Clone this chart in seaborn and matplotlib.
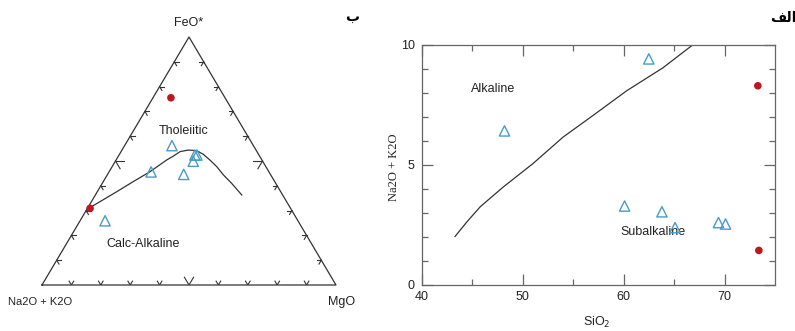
import numpy as np
import pandas as pd
import matplotlib.pyplot as plt
import seaborn as sns

# --- ternary AFM data (percent: FeO*, MgO, Na2O+K2O) ---
afm_tri_feo = [56.2, 52.4, 52.4, 49.9, 45.6, 44.6, 25.9]
afm_tri_mgo = [16.1, 25.8, 26.5, 26.5, 14.3, 25.9, 8.5]
afm_tri_alk = [27.7, 21.8, 21.1, 23.6, 40.1, 29.5, 65.6]
afm_dot_feo = [75.5, 30.9]
afm_dot_mgo = [6.1, 0.9]
afm_dot_alk = [18.4, 68.2]

afm_line_feo = [31.2, 33.6, 37.6, 41.7, 45.7, 50.4, 52.0, 53.8, 54.4, 54.3,
                53.8, 52.7, 50.4, 47.7, 44.4, 41.0, 36.3]
afm_line_mgo = [0.7, 2.9, 6.6, 10.2, 13.9, 17.2, 18.7, 20.1, 22.5, 24.3,
                26.3, 28.5, 31.9, 35.6, 39.5, 44.0, 49.8]
afm_line_alk = [68.1, 63.5, 55.8, 48.1, 40.4, 32.4, 29.3, 26.1, 23.1, 21.4,
                19.9, 18.8, 17.7, 16.7, 16.1, 15.0, 13.9]

# --- SiO2 vs alkalis data ---
tas_tri_sio2 = [62.5, 48.2, 60.1, 63.8, 65.1, 69.4, 70.1]
tas_tri_alk = [9.4, 6.4, 3.27, 3.03, 2.37, 2.58, 2.52]
tas_dot_sio2 = [73.3, 73.4]
tas_dot_alk = [8.28, 1.42]

tas_line_sio2 = [43.3, 44.5, 45.8, 48.1, 51.0, 54.0, 56.7, 60.3, 63.9, 66.9]
tas_line_alk = [2.0, 2.62, 3.24, 4.07, 5.03, 6.14, 6.96, 8.07, 9.03, 10.0]

plt.rcParams['font.family'] = ['Liberation Sans', 'DejaVu Sans']

TRI_COLOR = '#4a9bc7'
DOT_COLOR = '#c0161d'
LINE_COLOR = '#333333'


def tern_xy(feo, mgo, alk):
    feo = np.asarray(feo, float)
    mgo = np.asarray(mgo, float)
    alk = np.asarray(alk, float)
    tot = feo + mgo + alk
    f = feo / tot
    m = mgo / tot
    return m + f / 2, f


fig = plt.figure(figsize=(7.95, 3.31), dpi=100)
W, H = 795, 331

# ---------------- left: AFM ternary ----------------
axt = fig.add_axes([42 / W, (H - 285) / H, 294 / W, 248 / H])
axt.set_xlim(0, 1)
axt.set_ylim(0, 1)
axt.axis('off')

axt.plot([0, 1, 0.5, 0], [0, 0, 1, 0], color=LINE_COLOR, lw=0.9, clip_on=False)

# edge ticks (10 % steps, bigger at 50 %)
edge_len = 288.3
for i in range(1, 10):
    t = i / 10
    L = 9 if i == 5 else 4.5
    b = L / edge_len
    h = L / 294
    segs = [
        ((t, 0), (0.5 * b, b)), ((t, 0), (-0.5 * b, b)),
        ((0.5 * t, t), (h, 0)), ((0.5 * t, t), (0.5 * b, -b)),
        ((1 - 0.5 * t, t), (-h, 0)), ((1 - 0.5 * t, t), (-0.5 * b, -b)),
    ]
    for (x0, y0), (dx, dy) in segs:
        axt.plot([x0, x0 + dx], [y0, y0 + dy], color=LINE_COLOR, lw=0.8)

lx, ly = tern_xy(afm_line_feo, afm_line_mgo, afm_line_alk)
sns.lineplot(x=lx, y=ly, ax=axt, color=LINE_COLOR, lw=0.9, sort=False, estimator=None)

tx, ty = tern_xy(afm_tri_feo, afm_tri_mgo, afm_tri_alk)
sns.scatterplot(x=tx, y=ty, ax=axt, marker='^', s=55, facecolor='none',
                edgecolor=TRI_COLOR, linewidth=1.0, zorder=5, clip_on=False)
dx_, dy_ = tern_xy(afm_dot_feo, afm_dot_mgo, afm_dot_alk)
sns.scatterplot(x=dx_, y=dy_, ax=axt, marker='o', s=30, color=DOT_COLOR,
                edgecolor='none', zorder=6, clip_on=False)

axt.text(0.5, 1.056, 'FeO*', ha='center', va='center', fontsize=9, color='#222')
axt.text(-0.007, -0.067, 'Na2O + K2O', ha='center', va='center', fontsize=8, color='#222')
axt.text(1.019, -0.067, 'MgO', ha='center', va='center', fontsize=9, color='#222')
axt.text(0.481, 0.621, 'Tholeiitic', ha='center', va='center', fontsize=9, color='#222')
axt.text(0.345, 0.165, 'Calc-Alkaline', ha='center', va='center', fontsize=9, color='#222')

# ---------------- right: SiO2 vs alkalis ----------------
axr = fig.add_axes([421.7 / W, (H - 284.5) / H, 353.3 / W, 240 / H])
sns.lineplot(x=tas_line_sio2, y=tas_line_alk, ax=axr, color=LINE_COLOR, lw=0.9,
             sort=False, estimator=None)
sns.scatterplot(x=tas_tri_sio2, y=tas_tri_alk, ax=axr, marker='^', s=55,
                facecolor='none', edgecolor=TRI_COLOR, linewidth=1.0, zorder=5)
sns.scatterplot(x=tas_dot_sio2, y=tas_dot_alk, ax=axr, marker='o', s=30,
                color=DOT_COLOR, edgecolor='none', zorder=6)

axr.set_xlim(40, 75)
axr.set_ylim(0, 10)
axr.set_xticks([40, 50, 60, 70])
axr.set_xticks([45, 55, 65], minor=True)
axr.set_yticks([0, 5, 10])
axr.set_yticks([1, 2, 3, 4, 6, 7, 8, 9], minor=True)
axr.tick_params(which='both', direction='in', top=True, right=True,
                color='#666666', width=0.9, labelsize=9, labelcolor='#222')
axr.tick_params(which='major', length=8, pad=5)
axr.tick_params(which='minor', length=4)
for sp in axr.spines.values():
    sp.set_color('#666666')
    sp.set_linewidth(0.9)

axr.set_xlabel('SiO$_2$', fontsize=9, color='#222')
axr.xaxis.set_label_coords(0.495, -0.125)
axr.set_ylabel('Na2O + K2O', fontsize=9, family='Liberation Serif', color='#222')
axr.yaxis.set_label_coords(-0.061, 0.49)

axr.text(47.06, 8.15, 'Alkaline', ha='center', va='center', fontsize=9, color='#222')
axr.text(62.9, 2.18, 'Subalkaline', ha='center', va='center', fontsize=9, color='#222')

# panel letters (Arabic)
fig.text(351.7 / W, 1 - 16.7 / H, 'ب', ha='center', va='center', fontsize=10,
         fontweight='bold', family='DejaVu Sans')
fig.text(783 / W, 1 - 18 / H, '\ufed2\ufedf\ufe8d', ha='center', va='center', fontsize=10,
         fontweight='bold', family='DejaVu Sans')

fig.savefig('out.png', dpi=100)
